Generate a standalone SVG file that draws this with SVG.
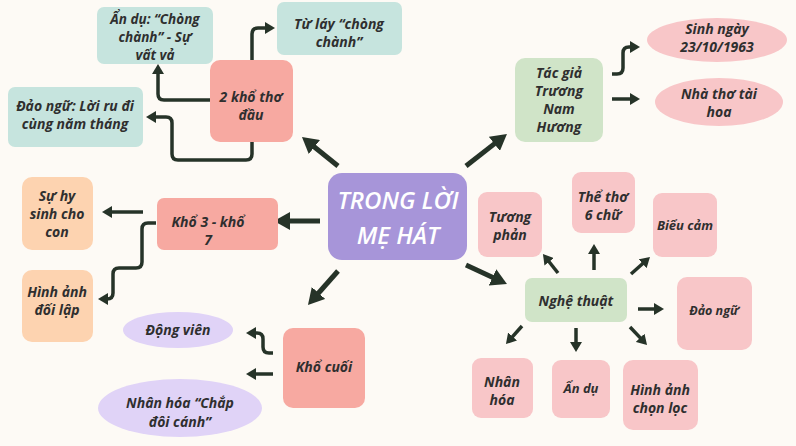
<svg xmlns="http://www.w3.org/2000/svg" width="796" height="446" viewBox="0 0 796 446">
<defs>
<style>
.t{font-family:"Open Sans","Noto Sans","Liberation Sans",sans-serif;font-style:italic;font-weight:700;font-size:14px;fill:#2f2f2f;text-anchor:middle}
.c{font-family:"Open Sans","Noto Sans","Liberation Sans",sans-serif;font-style:italic;font-weight:600;font-size:24px;fill:#ffffff;text-anchor:middle}
.big{fill:none;stroke:#263328;stroke-width:5;marker-end:url(#mb)}
.sm{fill:none;stroke:#263328;stroke-width:3.5;stroke-linejoin:round;marker-end:url(#ms)}
.salmon{fill:#F7A9A1}
.teal{fill:#C6E4DE}
.green{fill:#D0E4C8}
.pink{fill:#F8C6C8}
.peach{fill:#FDD3B0}
.lav{fill:#E0D3F7}
.purple{fill:#A795D9}
</style>
<marker id="mb" viewBox="0 0 16 18" refX="4" refY="9" markerWidth="16" markerHeight="18" markerUnits="userSpaceOnUse" orient="auto">
<polygon points="0,0 16,9 0,18" fill="#263328"/>
</marker>
<marker id="ms" viewBox="0 0 10 12" refX="3" refY="6" markerWidth="10" markerHeight="12" markerUnits="userSpaceOnUse" orient="auto">
<polygon points="0,0 10,6 0,12" fill="#263328"/>
</marker>
</defs>
<rect width="796" height="446" fill="#FDFAF5"/>

<g id="connectors">
<path class="big" d="M338,166 L311.3,144.5"/>
<path class="big" d="M466,166 L497.5,141.4"/>
<path class="big" d="M320,221 L286,221"/>
<path class="big" d="M338,271 L315.9,296"/>
<path class="big" d="M466,265 L496.1,279"/>
<path class="sm" d="M210,100 H164 Q158,100 158,94 V71"/>
<path class="sm" d="M252,142 V154 Q252,160 246,160 H178 Q172,160 172,154 V123 Q172,117 166,117 H153"/>
<path class="sm" d="M252,60 V34 Q252,28 258,28 H268"/>
<path class="sm" d="M612,74 H617 Q623,74 623,68 V53 Q623,47 629,47 H633"/>
<path class="sm" d="M612,99 H633"/>
<path class="sm" d="M143,212 H109"/>
<path class="sm" d="M156,223 H148 Q142,223 142,229 V262 Q142,268 136,268 H119 Q113,268 113,274 V293 Q113,299 107,299 H105"/>
<path class="sm" d="M273,353 H269 Q263,353 263,347 V339 Q263,333 257,333 H253"/>
<path class="sm" d="M273,374 H253"/>
<path class="sm" d="M558,273 L547.3,259.5"/>
<path class="sm" d="M594,270 L594,251"/>
<path class="sm" d="M631,274 L644.8,261.7"/>
<path class="sm" d="M638,309 L657,309"/>
<path class="sm" d="M522,326 L510.6,338.8"/>
<path class="sm" d="M576,328 L576,345"/>
<path class="sm" d="M630,327 L642.2,339.9"/>
</g>

<g id="center">
<rect class="purple" x="328" y="173" width="139" height="87" rx="14"/>
<text class="c" x="398" y="209">TRONG LỜI</text>
<text class="c" x="398" y="244">MẸ HÁT</text>
</g>

<g id="kho-dau">
<rect class="salmon" x="210" y="60" width="83" height="82" rx="10"/>
<text class="t" x="251" y="102">2 khổ thơ</text>
<text class="t" x="251" y="120">đầu</text>
</g>
<g id="an-du-1">
<rect class="teal" x="97" y="7" width="116" height="57" rx="7"/>
<text class="t" x="155" y="24" style="font-size:13.5px">Ẩn dụ: “Chòng</text>
<text class="t" x="155" y="42" style="font-size:13.5px">chành” - Sự</text>
<text class="t" x="155" y="60" style="font-size:13.5px">vất vả</text>
</g>
<g id="tu-lay">
<rect class="teal" x="277" y="2" width="125" height="53" rx="7"/>
<text class="t" x="339" y="29">Từ láy “chòng</text>
<text class="t" x="339" y="47">chành”</text>
</g>
<g id="dao-ngu-1">
<rect class="teal" x="8" y="87" width="135" height="60" rx="7"/>
<text class="t" x="75" y="111">Đảo ngữ: Lời ru đi</text>
<text class="t" x="75" y="129">cùng năm tháng</text>
</g>

<g id="tac-gia">
<rect class="green" x="515" y="58" width="88" height="84" rx="10"/>
<text class="t" x="559" y="78">Tác giả</text>
<text class="t" x="559" y="96">Trương</text>
<text class="t" x="559" y="114">Nam</text>
<text class="t" x="559" y="132">Hương</text>
</g>
<g id="sinh-ngay">
<ellipse class="pink" cx="717" cy="40" rx="70" ry="22"/>
<text class="t" x="717" y="34">Sinh ngày</text>
<text class="t" x="717" y="52">23/10/1963</text>
</g>
<g id="nha-tho">
<ellipse class="pink" cx="719" cy="102" rx="64" ry="24"/>
<text class="t" x="719" y="99">Nhà thơ tài</text>
<text class="t" x="719" y="117">hoa</text>
</g>

<g id="kho-3-7">
<rect class="salmon" x="157" y="198" width="121" height="52" rx="7"/>
<text class="t" x="208" y="227">Khổ 3 - khổ</text>
<text class="t" x="208" y="245">7</text>
</g>
<g id="su-hy-sinh">
<rect class="peach" x="22" y="177" width="71" height="73" rx="10"/>
<text class="t" x="57" y="201">Sự hy</text>
<text class="t" x="57" y="219">sinh cho</text>
<text class="t" x="57" y="237">con</text>
</g>
<g id="hinh-anh-doi-lap">
<rect class="peach" x="22" y="270" width="71" height="72" rx="10"/>
<text class="t" x="57" y="297">Hình ảnh</text>
<text class="t" x="57" y="315">đối lập</text>
</g>

<g id="kho-cuoi">
<rect class="salmon" x="283" y="328" width="82" height="80" rx="10"/>
<text class="t" x="324" y="372">Khổ cuối</text>
</g>
<g id="dong-vien">
<ellipse class="lav" cx="178" cy="330" rx="55" ry="18"/>
<text class="t" x="178" y="335">Động viên</text>
</g>
<g id="nhan-hoa-1">
<ellipse class="lav" cx="180" cy="408" rx="82" ry="29"/>
<text class="t" x="180" y="408">Nhân hóa “Chắp</text>
<text class="t" x="180" y="427">đôi cánh”</text>
</g>

<g id="nghe-thuat">
<rect class="green" x="525" y="278" width="102" height="44" rx="7"/>
<text class="t" x="576" y="306">Nghệ thuật</text>
</g>
<g id="tuong-phan">
<rect class="pink" x="478" y="192" width="64" height="65" rx="9"/>
<text class="t" x="510" y="222">Tương</text>
<text class="t" x="510" y="240">phản</text>
</g>
<g id="the-tho">
<rect class="pink" x="572" y="172" width="63" height="61" rx="9"/>
<text class="t" x="603" y="202">Thể thơ</text>
<text class="t" x="603" y="220">6 chữ</text>
</g>
<g id="bieu-cam">
<rect class="pink" x="653" y="193" width="64" height="64" rx="9"/>
<text class="t" x="685" y="230" style="font-size:13px">Biểu cảm</text>
</g>
<g id="dao-ngu-2">
<rect class="pink" x="677" y="277" width="75" height="73" rx="10"/>
<text class="t" x="714" y="315" style="font-size:12.5px">Đảo ngữ</text>
</g>
<g id="nhan-hoa-2">
<rect class="pink" x="472" y="358" width="61" height="60" rx="9"/>
<text class="t" x="502" y="387">Nhân</text>
<text class="t" x="502" y="405">hóa</text>
</g>
<g id="an-du-2">
<rect class="pink" x="552" y="360" width="58" height="58" rx="9"/>
<text class="t" x="581" y="393" style="font-size:13px">Ẩn dụ</text>
</g>
<g id="hinh-anh-chon-loc">
<rect class="pink" x="623" y="360" width="75" height="70" rx="10"/>
<text class="t" x="660" y="395">Hình ảnh</text>
<text class="t" x="660" y="413">chọn lọc</text>
</g>
</svg>
